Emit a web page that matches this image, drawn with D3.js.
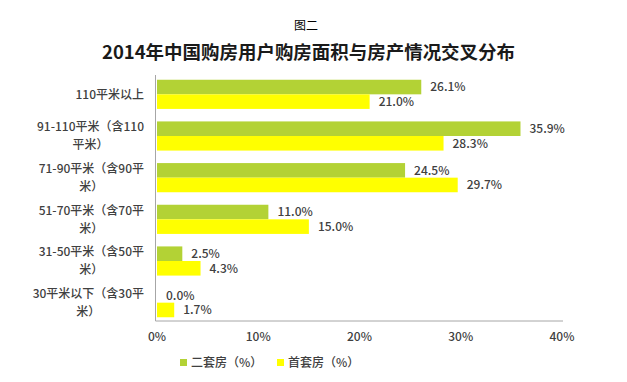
<!DOCTYPE html>
<html><head><meta charset="utf-8">
<script src="https://cdn.jsdelivr.net/npm/d3@7"></script>
<style>body{margin:0;background:#fff}svg{display:block}text{font-family:"Noto Sans CJK SC","Microsoft YaHei",sans-serif}</style>
</head><body>
<svg id="c" width="627" height="382"></svg>
<script>
const categories = [
  ["110平米以上"],
  ["91-110平米（含110", "平米）"],
  ["71-90平米（含90平", "米）"],
  ["51-70平米（含70平", "米）"],
  ["31-50平米（含50平", "米）"],
  ["30平米以下（含30平", "米）"]
];
const seriesNames = ["二套房（%）", "首套房（%）"];
const secondHome = [26.1, 35.9, 24.5, 11.0, 2.5, 0.0];
const firstHome = [21.0, 28.3, 29.7, 15.0, 4.3, 1.7];
const xTicks = [0, 10, 20, 30, 40];
const colors = ["#b3d235", "#ffff00"];

const svg = d3.select("#c");
const textColor = "#404040";
const fw = 500;
const x = d3.scaleLinear().domain([0, 40]).range([157, 562]);
const y = d3.scaleBand().domain(d3.range(categories.length)).range([73.5, 323.5]).paddingInner(0.3).paddingOuter(0.15);
const sub = d3.scaleBand().domain([0, 1]).range([0, y.bandwidth()]);

svg.append("text").attr("x", 306).attr("y", 30).attr("text-anchor", "middle")
  .attr("font-size", 12).attr("fill", "#000").text("图二");
svg.append("text").attr("x", 102).attr("y", 59)
  .attr("font-size", 18).attr("font-weight", "bold").attr("fill", "#1a1a1a")
  .attr("textLength", 413).attr("lengthAdjust", "spacingAndGlyphs")
  .text("2014年中国购房用户购房面积与房产情况交叉分布");

const series = [secondHome, firstHome];
series.forEach((vals, si) => {
  const g = svg.append("g");
  g.selectAll("rect").data(vals).join("rect")
    .attr("x", x(0)).attr("y", (d, i) => y(i) + sub(si))
    .attr("width", d => x(d) - x(0)).attr("height", sub.bandwidth())
    .attr("fill", colors[si]);
  g.selectAll("text").data(vals).join("text")
    .attr("x", d => x(d) + 9).attr("y", (d, i) => y(i) + sub(si) + sub.bandwidth() / 2)
    .attr("dy", "0.36em").attr("font-size", 12).attr("font-weight", fw).attr("fill", textColor)
    .text(d => d.toFixed(1) + "%");
});

// axes lines
svg.append("line").attr("x1", 155.5).attr("x2", 155.5).attr("y1", 75).attr("y2", 321)
  .attr("stroke", "#a6a6a6").attr("stroke-width", 1);
svg.append("line").attr("x1", 155.5).attr("x2", 563).attr("y1", 321).attr("y2", 321)
  .attr("stroke", "#a6a6a6").attr("stroke-width", 1);

// x tick labels
svg.append("g").selectAll("text").data(xTicks).join("text")
  .attr("x", d => x(d)).attr("y", 341).attr("text-anchor", "middle")
  .attr("font-size", 12).attr("font-weight", fw).attr("fill", textColor).text(d => d + "%");

// category labels
categories.forEach((lines, i) => {
  const cy = y(i) + y.bandwidth() / 2;
  const right = 144;
  const lh = 18;
  const g = svg.append("g");
  const t0 = g.append("text").attr("x", right).attr("text-anchor", "end")
    .attr("y", cy - (lines.length - 1) * lh / 2).attr("dy", "0.36em")
    .attr("font-size", 12).attr("font-weight", fw).attr("fill", textColor).text(lines[0]);
  if (lines.length > 1) {
    const w = t0.node().getComputedTextLength();
    g.append("text").attr("x", right - w / 2).attr("text-anchor", "middle")
      .attr("y", cy + lh / 2).attr("dy", "0.36em")
      .attr("font-size", 12).attr("font-weight", fw).attr("fill", textColor).text(lines[1]);
  }
});

// legend
const legX = [180, 277];
seriesNames.forEach((n, i) => {
  svg.append("rect").attr("x", legX[i]).attr("y", 359).attr("width", 7).attr("height", 7).attr("fill", colors[i]);
  svg.append("text").attr("x", legX[i] + 11).attr("y", 363).attr("dy", "0.36em")
    .attr("font-size", 12).attr("font-weight", fw).attr("fill", textColor).text(n);
});
</script>
</body></html>
